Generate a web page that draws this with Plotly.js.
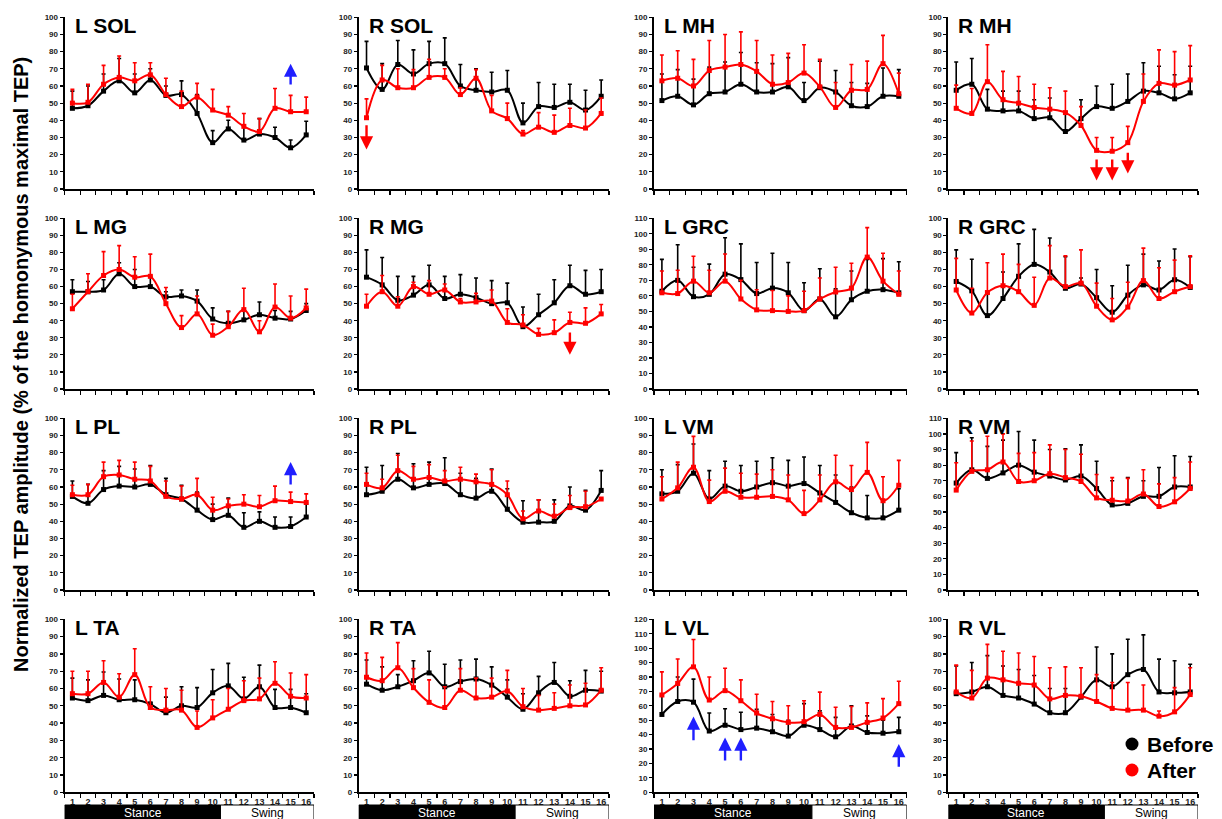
<!DOCTYPE html>
<html><head><meta charset="utf-8">
<script src="https://cdn.plot.ly/plotly-3.0.1.min.js"></script>
<style>html,body{margin:0;padding:0;background:#fff}#chart{width:1222px;height:819px}</style>
</head><body><div id="chart"></div>
<script>
// ---------------- DATA ----------------
const phases = [1,2,3,4,5,6,7,8,9,10,11,12,13,14,15,16];
const tickLabels = ['1','2','3','4','5','6','7','8','9','10','11','12','13','14','15','16'];
const panelNames = ['L SOL','R SOL','L MH','R MH','L MG','R MG','L GRC','R GRC','L PL','R PL','L VM','R VM','L TA','R TA','L VL','R VL'];
const panelYMax = [100,100,100,100,100,100,110,100,100,100,100,110,100,100,120,100];
const seriesNames = ['Before','After'];
const phaseBars = ['Stance','Swing'];
const yTitle = 'Normalized TEP amplitude (% of the homonymous maximal TEP)';

const LSOL_before = [47,48.5,57,63,56,63.5,54.5,55,44,27,35,28.5,32,30,24,31.5];
const LSOL_beforeUpper = [57,60,67,76,67,70,60,63,55,34,40,37,41,36,28.5,39.5];
const LSOL_after = [50,50.5,61,65,63,66.5,55,48,53.5,46,43,36.5,33.5,47,45,45];
const LSOL_afterUpper = [58,61,72,77.5,73.5,73.5,64.5,57,61.5,58,48,44,41,58.5,54.5,53.5];

const RSOL_before = [70.5,58,72.5,67,73,73,60,57.5,56.5,57.5,38.5,48,47.5,50.5,46,54];
const RSOL_beforeUpper = [86,73,86.5,81,86,88,72.5,70,68,69,50,62,61,61,57.5,63.5];
const RSOL_after = [41.5,63.5,59,59,65,65,55,64.5,45.5,41,32,36,33,37,35.5,44];
const RSOL_afterUpper = [52.5,72,70,69.5,75.5,70,59,69.5,54.5,50,34,44.5,43,47,46,53];

const LMH_before = [51.5,54,49,55.5,56.5,61,56.5,56.5,59.5,51.5,59,56.5,48.5,48,54,54];
const LMH_beforeUpper = [67,69.5,64,71,74,79.5,73.5,73,76.5,62,74.5,69,62,61.5,70.5,69.5];
const LMH_after = [63,64.5,60,69,71,72.5,68.5,61,62,67.5,59.5,47.5,57.5,58,73,55.5];
const LMH_afterUpper = [78,80.5,75.5,86.5,90,91.5,86.5,78,79,84,75.5,62,72.5,74.5,89.5,67.5];

const RMH_before = [57.5,61,46.5,45.5,45.5,41,41.5,33.5,41,48,47,51,57,56,52.5,56];
const RMH_beforeUpper = [74,76,58,57,57,52,53,45,52,60,61,67,73.5,71.5,66.5,71.5];
const RMH_after = [47,44,62.5,52,50,47.5,46.5,44.5,37,22.5,22,27,51,61.5,60.5,63.5];
const RMH_afterUpper = [60.5,58.5,84,68.5,65.5,61,59,57,48,30,30,36.5,67,81,80,83.5];

const LMG_before = [57,57,58,67.5,60,60,54,54.5,51.5,41,38.5,40.5,43.5,41.5,41,46];
const LMG_beforeUpper = [64,63,64,74,70,66,57,58,58,47.5,45.5,46,51,46,45.5,50];
const LMG_after = [47,57,66.5,70,65.5,66,50,36,44,31.5,36.5,46.5,33.5,48,41.5,47.5];
const LMG_afterUpper = [55.5,67.5,80.5,84,77.5,79,59.5,43,54.5,38,45.5,59,40,61.5,54.5,58.5];

const RMG_before = [65.5,61,52,55,61,53,55.5,53.5,50,50.5,36.5,43.5,50.5,60.5,55.5,57];
const RMG_beforeUpper = [81.5,77,66,66,72.5,66,67,65,63.5,62,48,55.5,64,72.5,69.5,70];
const RMG_after = [48.5,57,48.5,60,55.5,58,51,51,51.5,39,37.5,32,33,39,38.5,44];
const RMG_afterUpper = [55.5,66.5,54,62.5,63.5,61.5,53,56,58,47,43.5,35.5,40.5,45,47.5,49.5];

const LGRC_before = [63,70,59.5,61,74,70.5,61.5,65,62,50.5,58,46.5,57.5,63,64,62];
const LGRC_beforeUpper = [83.5,93,78.5,80.5,97.5,93.5,81.5,87.5,81.5,68.5,77.5,64.5,76,83.5,84,82];
const LGRC_after = [62,61.5,69.5,62,69.5,58,51,50.5,50,50.5,58,62.5,65,85,69.5,61];
const LGRC_afterUpper = [76,76.5,85.5,76.5,87,70,64,63.5,60,63,71.5,78.5,81,104,87.5,76];

const RGRC_before = [63,57.5,43,53,66,73,68.5,59,61.5,53.5,45,55,61,58,64,59.5];
const RGRC_beforeUpper = [81.5,76,56,68.5,85,93.5,88.5,77.5,65,70,60.5,72.5,79,75,82,77.5];
const RGRC_after = [58,44.5,56.5,60.5,57,49,65,60,62,48.5,40.5,48,63.5,53,57,60];
const RGRC_afterUpper = [76.5,59,74,79,73,65.5,84,78,81.5,62,53,62.5,82.5,71,75.5,78];

const LPL_before = [54.5,50.5,58.5,60.5,60,61.5,55.5,53,46.5,41,43.5,36.5,40,36.5,37,42.5];
const LPL_beforeUpper = [63.5,61.5,69.5,72,70.5,72.5,65,61,57,50,53.5,45,45.5,42.5,42.5,50];
const LPL_after = [55.5,55.5,66,67,64.5,63.5,54.5,53,55.5,46.5,49,50,48.5,52,51.5,51];
const LPL_afterUpper = [61,61.5,74.5,75.5,74.5,72,63.5,60.5,65,54,53,55.5,55,60.5,57,56];

const RPL_before = [55.5,57.5,64.5,59.5,61.5,62,55.5,53.5,57.5,47,39.5,39.5,40,49,46.5,58];
const RPL_beforeUpper = [71.5,72.5,79.5,73.5,74.5,77,68,65,70.5,59,52,52.5,52.5,60,58,69.5];
const RPL_after = [61.5,59.5,69.5,64.5,65.5,63.5,64.5,63,61.5,55.5,41.5,46,43,48,48.5,53];
const RPL_afterUpper = [68,64.5,78.5,72,73,69.5,71.5,67.5,70,63.5,46,52.5,50,55,57.5,53];

const LVM_before = [56,57.5,68,53,60.5,57.5,60,62.5,60.5,62,56.5,51,45,42,42,46.5];
const LVM_beforeUpper = [70,73,85,69.5,75,72.5,75,77,75.5,77.5,72.5,67,60,55,52,59];
const LVM_after = [53,59.5,71.5,51.5,57.5,54,54,54.5,52.5,44.5,52.5,63,58.5,68.5,52,61];
const LVM_afterUpper = [66,74.5,89.5,64,71,68,67.5,70,67,58,67,78.5,72.5,86,66,75.5];

const RVM_before = [68.5,77,71.5,75,80,75.5,73,70.5,73,65,54.5,55.5,60,60,66,66];
const RVM_beforeUpper = [88,97.5,92,96,101.5,96,90,90.5,93,82.5,70,72,70,78.5,86,85.5];
const RVM_after = [64,76,77,82,69.5,70,74.5,72,69.5,59,57.5,57,61.5,53.5,56.5,65];
const RVM_afterUpper = [81.5,95.5,98.5,100,87.5,88,93,90,87,74,72,71.5,77,68,72,82];

const LTA_before = [54.5,53,56,53.5,53.5,51,46,50,49,57.5,61.5,54,61,49,49,46];
const LTA_beforeUpper = [66,65,69.5,65.5,65,52,55,61,60.5,71,74.5,66.5,73.5,59.5,59.5,57];
const LTA_after = [57,57,63.5,55,68,49,47.5,47.5,37.5,43,48,53,54,63,55.5,54.5];
const LTA_afterUpper = [70,70,76,68.5,83,61,60,59,47,53.5,60,64.5,66,75.5,69,68];

const RTA_before = [62.5,59,61,64.5,69,61,64,65.5,62,55,48,57.5,63.5,55.5,59,58.5];
const RTA_beforeUpper = [76.5,72.5,68,76,81.5,74,76.5,77,72.5,65,57,67,75,64.5,70.5,70];
const RTA_after = [66.5,64.5,72,60.5,52,49,59,54.5,55,58.5,49.5,47.5,48.5,50,50.5,59];
const RTA_afterUpper = [80.5,78,86.5,71.5,65,61,71.5,66,66,70.5,60,56,57.5,62,63,72];

const LVL_before = [54,63,62.5,42.5,46.5,43.5,44.5,42,39,46.5,43.5,38.5,46,41.5,41,42];
const LVL_beforeUpper = [67,80,78.5,55,58,55.5,57.5,54,50,61.5,56.5,52,60,53,50,52];
const LVL_after = [67.5,75.5,87,64,70.5,63.5,55,51,48.5,49,54,45,45,48.5,51.5,61.5];
const LVL_afterUpper = [83.5,92.5,106,80,86,78,68,63,60,63.5,69.5,59,59.5,62,65,77];

const RVL_before = [57,58,61,56,54.5,51,46,46,55,65,61,68,71,58,57.5,58];
const RVL_beforeUpper = [73,75,79,73,71,67.5,60,60,56,84,80,88.5,91,77,76,74];
const RVL_after = [58,54.5,66,65,63,62,54,56,55.5,52.5,48.5,47.5,47.5,44,46.5,56.5];
const RVL_afterUpper = [73.5,70.5,85.5,81.5,80.5,78.5,72,72.5,72,68,63.5,63.5,62,47,60.5,72];

// significance arrows: panel index, phase, tail value, head value
const arrowPanel = [0, 1, 3, 3, 3, 5, 8, 14, 14, 14, 14];
const arrowPhase = [15, 1, 10, 11, 12, 14, 15, 3, 5, 6, 16];
const arrowTail  = [60, 38, 18, 18, 22, 34, 60.5, 35, 21, 21, 16.7];
const arrowHead  = [73, 23, 5, 5, 9, 20, 74.5, 52.5, 38, 38, 33.5];

// ---------------- BUILD ----------------
const beforeSeries = [LSOL_before,RSOL_before,LMH_before,RMH_before,LMG_before,RMG_before,LGRC_before,RGRC_before,LPL_before,RPL_before,LVM_before,RVM_before,LTA_before,RTA_before,LVL_before,RVL_before];
const beforeUpper = [LSOL_beforeUpper,RSOL_beforeUpper,LMH_beforeUpper,RMH_beforeUpper,LMG_beforeUpper,RMG_beforeUpper,LGRC_beforeUpper,RGRC_beforeUpper,LPL_beforeUpper,RPL_beforeUpper,LVM_beforeUpper,RVM_beforeUpper,LTA_beforeUpper,RTA_beforeUpper,LVL_beforeUpper,RVL_beforeUpper];
const afterSeries = [LSOL_after,RSOL_after,LMH_after,RMH_after,LMG_after,RMG_after,LGRC_after,RGRC_after,LPL_after,RPL_after,LVM_after,RVM_after,LTA_after,RTA_after,LVL_after,RVL_after];
const afterUpper = [LSOL_afterUpper,RSOL_afterUpper,LMH_afterUpper,RMH_afterUpper,LMG_afterUpper,RMG_afterUpper,LGRC_afterUpper,RGRC_afterUpper,LPL_afterUpper,RPL_afterUpper,LVM_afterUpper,RVM_afterUpper,LTA_afterUpper,RTA_afterUpper,LVL_afterUpper,RVL_afterUpper];

const W = 1222, H = 819;
const colPx = [[64.6,314],[358.7,609],[654,906.7],[948.4,1198]];
const rowPx = [[17.3,189],[218.3,389],[418.3,590],[619.3,792.3]];
const FONT = 'Arial, "Liberation Sans", sans-serif';
const BLACK = '#000000', RED = '#ff0000', BLUE = '#1f1fff';

const px = x => x / W;
const py = y => 1 - y / H;

const traces = [];
const layout = {
  width: W, height: H,
  margin: {l:0, r:0, t:0, b:0},
  paper_bgcolor: '#fff', plot_bgcolor: 'rgba(0,0,0,0)',
  showlegend: false,
  font: {family: FONT, color: '#000'},
  annotations: [], shapes: []
};

for (let i = 0; i < 16; i++) {
  const r = Math.floor(i / 4), c = i % 4;
  const sfx = i === 0 ? '' : String(i + 1);
  const xa = 'x' + sfx, ya = 'y' + sfx;
  const errB = beforeSeries[i].map((v, k) => Math.max(0, beforeUpper[i][k] - v));
  const errA = afterSeries[i].map((v, k) => Math.max(0, afterUpper[i][k] - v));
  const zeros = phases.map(() => 0);
  traces.push({
    type: 'scatter', mode: 'lines+markers', name: seriesNames[0],
    x: phases, y: beforeSeries[i], xaxis: xa, yaxis: ya,
    line: {color: BLACK, width: 2, shape: 'spline', smoothing: 1},
    marker: {color: BLACK, size: 5, symbol: 'square'},
    error_y: {type: 'data', symmetric: false, array: errB, arrayminus: zeros, color: BLACK, thickness: 1.6, width: 2},
    cliponaxis: false
  });
  traces.push({
    type: 'scatter', mode: 'lines+markers', name: seriesNames[1],
    x: phases, y: afterSeries[i], xaxis: xa, yaxis: ya,
    line: {color: RED, width: 2, shape: 'spline', smoothing: 1},
    marker: {color: RED, size: 5, symbol: 'square'},
    error_y: {type: 'data', symmetric: false, array: errA, arrayminus: zeros, color: RED, thickness: 1.6, width: 2},
    cliponaxis: false
  });

  const bottom = r === 3;
  layout['xaxis' + sfx] = {
    domain: [px(colPx[c][0]), px(colPx[c][1])], anchor: ya,
    range: [0.5, 16.5], showgrid: false, zeroline: false,
    showline: true, linecolor: '#000', linewidth: 2,
    tickmode: 'array', tickvals: phases, ticktext: tickLabels,
    showticklabels: bottom, ticks: '',
    tickfont: {family: FONT, size: 9, color: '#222', weight: 'bold'},
    minor: {tickmode: 'linear', tick0: 0.5, dtick: 1, ticks: 'outside', ticklen: 4, tickwidth: 1.2, tickcolor: '#000', showgrid: false},
    fixedrange: true
  };
  layout['yaxis' + sfx] = {
    domain: [py(rowPx[r][1]), py(rowPx[r][0])], anchor: xa,
    range: [0, panelYMax[i]], tickmode: 'linear', tick0: 0, dtick: 10,
    showgrid: false, zeroline: false,
    showline: true, linecolor: '#000', linewidth: 2,
    ticks: 'outside', ticklen: 3, tickwidth: 1.2, tickcolor: '#000',
    tickfont: {family: FONT, size: 8, color: '#222', weight: 'bold'},
    fixedrange: true
  };
  layout.annotations.push({
    xref: 'paper', yref: 'paper', x: px(colPx[c][0] + 8), y: py(rowPx[r][0] + 8),
    xanchor: 'left', yanchor: 'middle', showarrow: false,
    text: panelNames[i], font: {family: FONT, size: 21, color: '#000', weight: 'bold'}
  });
  if (bottom) {
    const barTop = py(805), barBot = py(826);
    layout.shapes.push({type: 'rect', xref: xa, yref: 'paper', x0: 0.5, x1: 10.5, y0: barBot, y1: barTop,
      fillcolor: '#000', line: {color: '#000', width: 1}});
    layout.shapes.push({type: 'rect', xref: xa, yref: 'paper', x0: 10.5, x1: 16.5, y0: barBot, y1: barTop,
      fillcolor: '#fff', line: {color: '#000', width: 1}});
    layout.annotations.push({xref: xa, yref: 'paper', x: 5.5, y: py(805), xanchor: 'center', yanchor: 'top',
      showarrow: false, text: phaseBars[0], font: {family: FONT, size: 12, color: '#fff'}, borderpad: 0});
    layout.annotations.push({xref: xa, yref: 'paper', x: 13.5, y: py(805), xanchor: 'center', yanchor: 'top',
      showarrow: false, text: phaseBars[1], font: {family: FONT, size: 12, color: '#000'}, borderpad: 0});
  }
}

// arrows
for (let k = 0; k < arrowPanel.length; k++) {
  const i = arrowPanel[k];
  const sfx = i === 0 ? '' : String(i + 1);
  const up = arrowHead[k] > arrowTail[k];
  layout.annotations.push({
    xref: 'x' + sfx, yref: 'y' + sfx, axref: 'x' + sfx, ayref: 'y' + sfx,
    x: arrowPhase[k], y: arrowHead[k], ax: arrowPhase[k], ay: arrowTail[k],
    text: '', showarrow: true, arrowhead: 2, arrowsize: 1.1, arrowwidth: 2.4,
    arrowcolor: up ? BLUE : RED, standoff: 0, startstandoff: 0
  });
}

// y-axis title
layout.annotations.push({
  xref: 'paper', yref: 'paper', x: px(21), y: py(365), xanchor: 'center', yanchor: 'middle',
  textangle: -90, showarrow: false, text: yTitle,
  font: {family: FONT, size: 20, color: '#000', weight: 'bold'}
});

// legend: dot marks + labels
const legendY = [744, 770];
const legendColor = [BLACK, RED];
for (let s = 0; s < 2; s++) {
  layout.shapes.push({type: 'circle', xref: 'paper', yref: 'paper',
    x0: px(1125.5), x1: px(1138.5), y0: py(legendY[s] + 6.5), y1: py(legendY[s] - 6.5),
    fillcolor: legendColor[s], line: {width: 0}});
  layout.annotations.push({
    xref: 'paper', yref: 'paper', x: px(1145), y: py(legendY[s]), xanchor: 'left', yanchor: 'middle', showarrow: false,
    text: seriesNames[s], font: {family: FONT, size: 21, color: '#000', weight: 'bold'}
  });
}

Plotly.newPlot('chart', traces, layout, {staticPlot: true, displayModeBar: false});
</script>
</body></html>
